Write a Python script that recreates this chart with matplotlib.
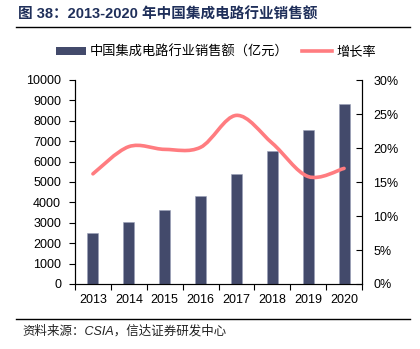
import matplotlib
matplotlib.use("Agg")
import matplotlib.pyplot as plt
from matplotlib.path import Path
from matplotlib.patches import PathPatch
from matplotlib.lines import Line2D
from matplotlib.patches import Patch
import numpy as np

plt.rcParams['font.family'] = ['Liberation Sans', 'Noto Sans CJK SC', 'DejaVu Sans']

years = ['2013', '2014', '2015', '2016', '2017', '2018', '2019', '2020']
sales = [2508.5, 3015.4, 3609.8, 4335.5, 5411.3, 6532.0, 7562.3, 8848.0]
growth = [16.2, 20.2, 19.8, 20.1, 24.8, 20.7, 15.8, 17.0]

bar_color = '#434A6B'
line_color = '#FF7C80'
title_color = '#1F2F5A'
cjk = ['Noto Sans CJK SC', 'DejaVu Sans']
mixed = ['Liberation Sans', 'Noto Sans CJK SC', 'DejaVu Sans']

fig = plt.figure(figsize=(4.2, 3.49), dpi=100)
ax = fig.add_axes([75/420, 1-284/349, (362-75)/420, (284-80)/349])
ax2 = ax.twinx()

x = np.arange(len(years))
ax.bar(x, sales, width=0.31, color=bar_color, edgecolor='#9aa0b8', linewidth=0.4, zorder=2)
ax.set_xlim(-0.5, len(years) - 0.5)
ax.set_ylim(0, 10000)
ax.set_yticks(np.arange(0, 10001, 1000))
ax.set_xticks(x)
ax.set_xticklabels(years)
ax.set_xticks(np.arange(-0.5, len(years), 1.0), minor=True)
ax.tick_params(axis='x', which='major', length=0, pad=7, labelsize=9)
ax.tick_params(axis='x', which='minor', length=4, width=0.8, direction='out')
ax.tick_params(axis='y', length=4, width=0.8, direction='out', labelsize=9, pad=6)

# smoothed growth line (Catmull-Rom style cubic Bezier through each point)
ax2.set_ylim(0, 30)
pts = np.column_stack([x, growth]).astype(float)
verts = [tuple(pts[0])]
codes = [Path.MOVETO]
n = len(pts)
for i in range(n - 1):
    p0 = pts[i - 1] if i > 0 else pts[i]
    p1 = pts[i]
    p2 = pts[i + 1]
    p3 = pts[i + 2] if i + 2 < n else pts[i + 1]
    c1 = p1 + (p2 - p0) / 6.0
    c2 = p2 - (p3 - p1) / 6.0
    verts += [tuple(c1), tuple(c2), tuple(p2)]
    codes += [Path.CURVE4] * 3
ax2.add_patch(PathPatch(Path(verts, codes), facecolor='none', edgecolor=line_color,
                        linewidth=2.6, capstyle='round', joinstyle='round', zorder=3))
ax2.set_yticks(np.arange(0, 31, 5))
ax2.set_yticklabels([f'{v}%' for v in range(0, 31, 5)])
ax2.tick_params(axis='y', length=4, width=0.8, direction='in', labelsize=9, pad=8)

for a in (ax, ax2):
    a.spines['top'].set_visible(False)
for s in ('left', 'right'):
    ax.spines[s].set_linewidth(0.8)
    ax2.spines[s].set_linewidth(0.8)
ax.spines['bottom'].set_color('#555555')
ax.spines['bottom'].set_linewidth(0.8)
ax.set_zorder(ax2.get_zorder() - 1)
ax.patch.set_visible(False)

# legend
handles = [Patch(facecolor=bar_color, edgecolor='none'),
           Line2D([0], [0], color=line_color, linewidth=2.6)]
labels = ['中国集成电路行业销售额（亿元）', '增长率']
fig.legend(handles, labels, loc='center', bbox_to_anchor=(0.514, 1 - 52/349), ncol=2,
           frameon=False, prop={'family': cjk, 'size': 9.5}, handlelength=2.3,
           handleheight=0.5, columnspacing=1.0, handletextpad=0.3)

# title and rules
fig.text(18/420, 1 - 15/349, '图 38：2013-2020 年中国集成电路行业销售额', family=mixed,
         fontsize=10.5, fontweight='bold', color=title_color, va='center', ha='left')
fig.add_artist(Line2D([16/420, 410/420], [1 - 27/349, 1 - 27/349], color='black', linewidth=1.0))
fig.add_artist(Line2D([16/420, 410/420], [1 - 319/349, 1 - 319/349], color='black', linewidth=1.0))
fig.text(22/420, 1 - 331/349, '资料来源：CSIA，信达证券研发中心', family=mixed,
         fontsize=9, style='italic', color='#222222', va='center', ha='left')

fig.savefig('out.png', dpi=100)
